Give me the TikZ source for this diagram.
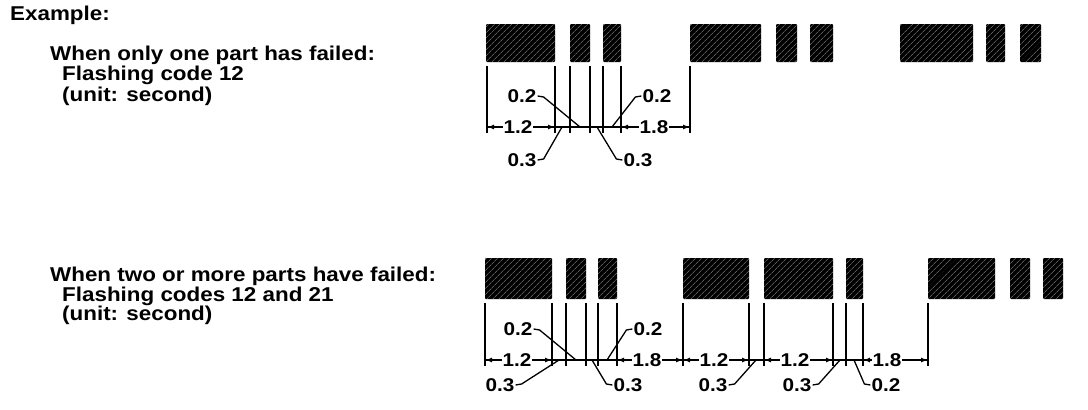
\documentclass[tikz,border=0pt]{standalone}
\usepackage{fontspec}
\setmainfont{Liberation Sans}
\newfontfamily\widefont[FakeStretch=1.12]{Liberation Sans}
\usetikzlibrary{arrows.meta,patterns.meta}
\tikzset{
  bar/.style={fill=black, rounded corners=1pt,
    postaction={pattern={Lines[angle=45,distance=4pt,line width=0.5pt]}, pattern color=black!45}},
  ext/.style={line width=1.5pt},
  dim/.style={line width=1.6pt},
  dimtip/.style={line width=1.6pt, -{Latex[length=7pt,width=5pt]}},
  lead/.style={line width=1.3pt},
  num/.style={font=\widefont\bfseries\fontsize{18.5}{20}\selectfont, fill=white, inner sep=1pt},
  txt/.style={font=\widefont\bfseries\fontsize{20}{22}\selectfont, anchor=base west, inner sep=0pt},
}

\begin{document}
\begin{tikzpicture}[x=1pt,y=-1pt]
    \useasboundingbox (0,0) rectangle (1088,410);

    %%% Texts %%%
    \node[txt] (ex) at (10,20) {Example:};
    \node[txt] (h1) at (50,60) {When only one part has failed:};
    \node[txt] (c1) at (62,80) {Flashing code 12};
    \node[txt] (u1) at (62,101) {(unit: second)};
    \node[txt] (h2) at (50,281) {When two or more parts have failed:};
    \node[txt] (c2) at (62,301) {Flashing codes 12 and 21};
    \node[txt] (u2) at (62,320) {(unit: second)};

    %%% Figure 1 %%%
    \fill[bar] (486,24) rectangle (555,62);   \fill[bar] (570,24) rectangle (590,62);   \fill[bar] (603,24) rectangle (621,62);
    \fill[bar] (690,24) rectangle (761,62);   \fill[bar] (776,24) rectangle (797,62);   \fill[bar] (810,24) rectangle (833,62);
    \fill[bar] (900,24) rectangle (973,62);   \fill[bar] (986,24) rectangle (1005,62);  \fill[bar] (1020,24) rectangle (1041,62);

    \coordinate (A0) at (487,127);  \coordinate (A1) at (555,127);  \coordinate (A2) at (570,127);
    \coordinate (A3) at (590,127);  \coordinate (A4) at (603,127);  \coordinate (A5) at (621,127);
    \coordinate (A6) at (690,127);
    \draw[ext] (487,66)--(487,133);   \draw[ext] (555,66)--(555,133);   \draw[ext] (570,66)--(570,133);
    \draw[ext] (590,66)--(590,133);   \draw[ext] (603,66)--(603,133);   \draw[ext] (621,66)--(621,133);
    \draw[ext] (690,66)--(690,133);
    \draw[dim] (A0)--(A6);

    \node[num] (a12) at (518,127) {1.2};   \draw[dimtip] (a12)--(A0);   \draw[dimtip] (a12)--(A1);
    \node[num] (a18) at (654,127) {1.8};   \draw[dimtip] (a18)--(A6);   \draw[dimtip] (a18)--(A5);

    \coordinate (P1) at (580,127);  \coordinate (P2) at (612,127);
    \coordinate (P3) at (562,127);  \coordinate (P4) at (597,127);
    \node[num] (a02l) at (522,96) {0.2};    \draw[lead] (a02l.east)--++(6,1)--(P1);
    \node[num] (a02r) at (657,96) {0.2};    \draw[lead] (a02r.west)--++(-6,1)--(P2);
    \node[num] (a03l) at (522,160) {0.3};   \draw[lead] (a03l.east)--++(6,-1)--(P3);
    \node[num] (a03r) at (638,160) {0.3};   \draw[lead] (a03r.west)--++(-6,-1)--(P4);

    %%% Figure 2 %%%
    \fill[bar] (485,258) rectangle (552,299);   \fill[bar] (566,258) rectangle (586,299);   \fill[bar] (598,258) rectangle (617,299);
    \fill[bar] (683,258) rectangle (749,299);   \fill[bar] (764,258) rectangle (833,299);   \fill[bar] (846,258) rectangle (863,299);
    \fill[bar] (928,258) rectangle (995,299);   \fill[bar] (1010,258) rectangle (1030,299); \fill[bar] (1043,258) rectangle (1063,299);

    \coordinate (B0) at (485,360);   \coordinate (B1) at (552,360);   \coordinate (B5) at (617,360);
    \coordinate (B6) at (683,360);   \coordinate (B7) at (749,360);   \coordinate (B8) at (764,360);
    \coordinate (B9) at (833,360);   \coordinate (B11) at (863,360);  \coordinate (B12) at (928,360);
    \draw[ext] (485,303)--(485,366);   \draw[ext] (552,303)--(552,366);   \draw[ext] (566,303)--(566,366);
    \draw[ext] (586,303)--(586,366);   \draw[ext] (598,303)--(598,366);   \draw[ext] (617,303)--(617,366);
    \draw[ext] (683,303)--(683,366);   \draw[ext] (749,303)--(749,366);   \draw[ext] (764,303)--(764,366);
    \draw[ext] (833,303)--(833,366);   \draw[ext] (846,303)--(846,366);   \draw[ext] (863,303)--(863,366);
    \draw[ext] (928,303)--(928,366);
    \draw[dim] (B0)--(B12);

    \node[num] (b12a) at (517,360) {1.2};   \draw[dimtip] (b12a)--(B0);   \draw[dimtip] (b12a)--(B1);
    \node[num] (b18a) at (647,360) {1.8};   \draw[dimtip] (b18a)--(B5);   \draw[dimtip] (b18a)--(B6);
    \node[num] (b12b) at (714,360) {1.2};   \draw[dimtip] (b12b)--(B6);   \draw[dimtip] (b12b)--(B7);
    \node[num] (b12c) at (795,360) {1.2};   \draw[dimtip] (b12c)--(B8);   \draw[dimtip] (b12c)--(B9);
    \node[num] (b18b) at (887,360) {1.8};   \draw[dimtip] (b18b)--(B11);  \draw[dimtip] (b18b)--(B12);

    \coordinate (Q1) at (576,360);  \coordinate (Q2) at (607,360);  \coordinate (Q3) at (559,360);
    \coordinate (Q4) at (592,360);  \coordinate (Q5) at (756,360);  \coordinate (Q6) at (840,360);
    \coordinate (Q7) at (854,360);
    \node[num] (b02l) at (518,329) {0.2};   \draw[lead] (b02l.east)--++(6,1)--(Q1);
    \node[num] (b02r) at (648,329) {0.2};   \draw[lead] (b02r.west)--++(-6,1)--(Q2);
    \node[num] (b03a) at (500,385) {0.3};   \draw[lead] (b03a.east)--++(6,-1)--(Q3);
    \node[num] (b03b) at (628,385) {0.3};   \draw[lead] (b03b.west)--++(-6,-1)--(Q4);
    \node[num] (b03c) at (713,385) {0.3};   \draw[lead] (b03c.east)--++(6,-1)--(Q5);
    \node[num] (b03d) at (797,385) {0.3};   \draw[lead] (b03d.east)--++(6,-1)--(Q6);
    \node[num] (b02e) at (886,385) {0.2};   \draw[lead] (b02e.west)--++(-6,-1)--(Q7);

\end{tikzpicture}
\end{document}
